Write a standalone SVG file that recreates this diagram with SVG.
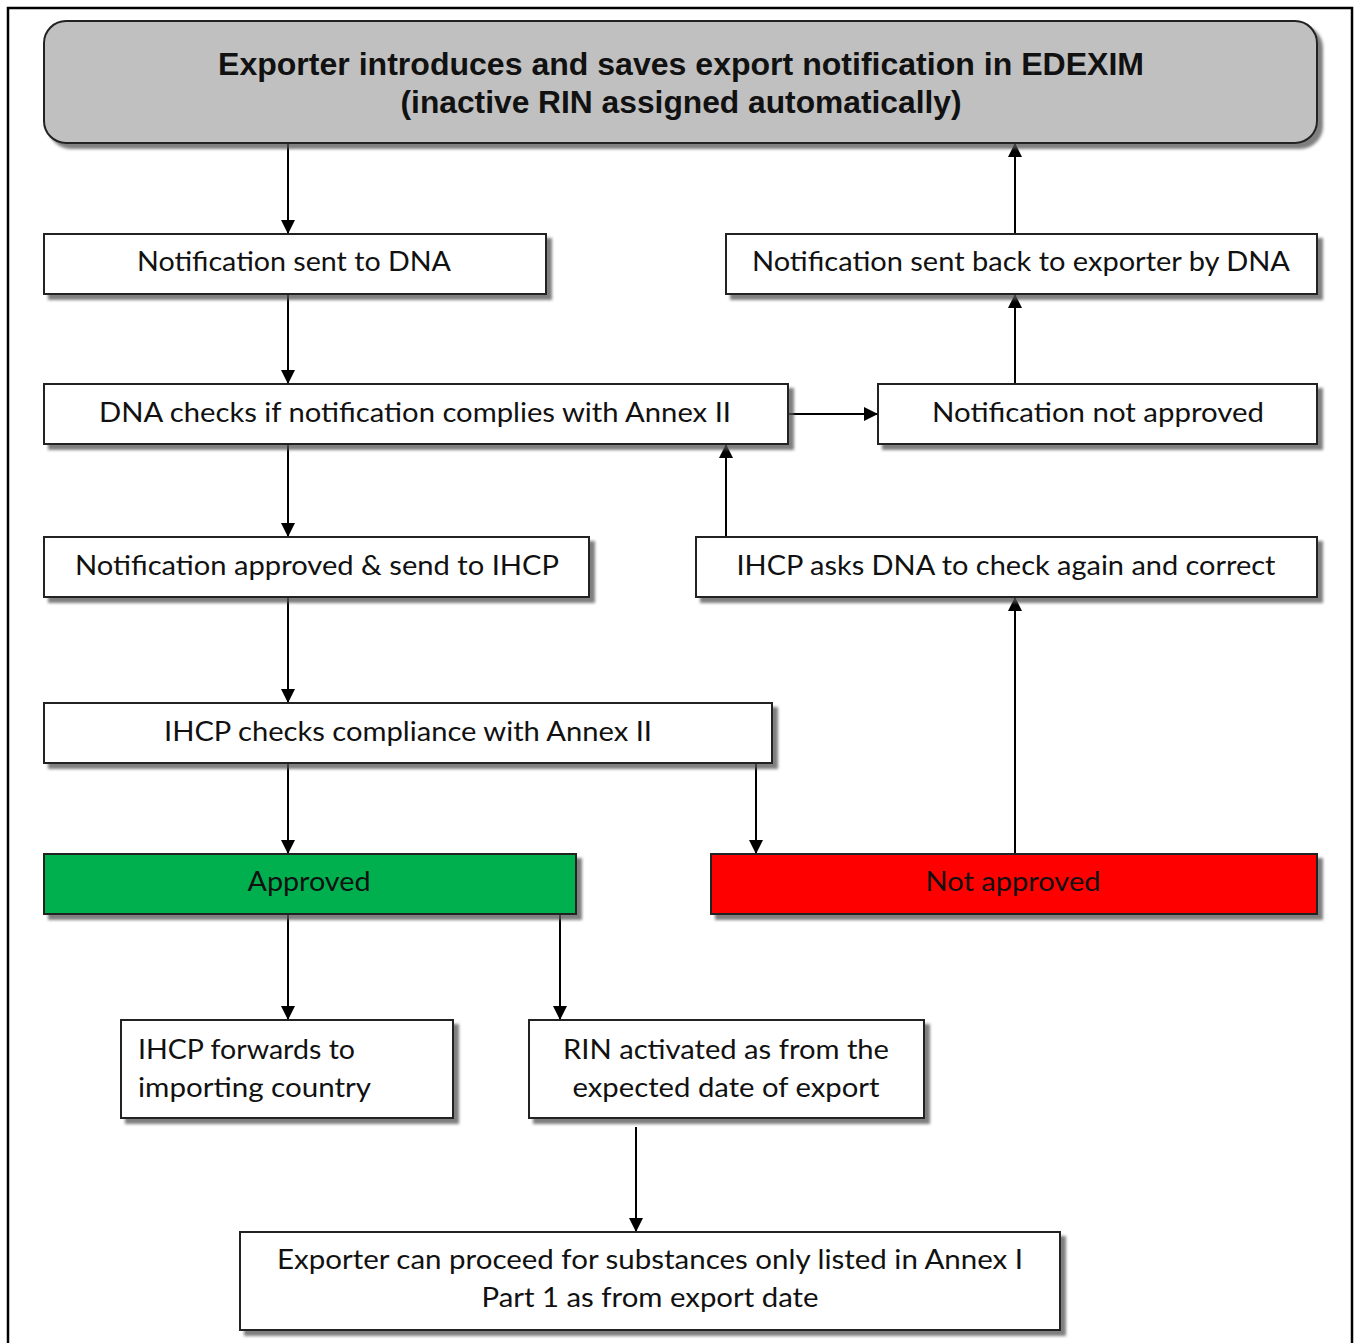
<svg xmlns="http://www.w3.org/2000/svg" width="1356" height="1343" viewBox="0 0 1356 1343">
  <defs>
    <filter id="shadow" x="-5%" y="-20%" width="115%" height="150%">
      <feDropShadow dx="5" dy="5" stdDeviation="1.5" flood-color="#555" flood-opacity="0.75"/>
    </filter>
    <marker id="arrow" markerUnits="userSpaceOnUse" markerWidth="16" markerHeight="16" refX="14" refY="8" orient="auto">
      <path d="M0,1 L14,8 L0,15 z" fill="#000"/>
    </marker>
  </defs>
  <style>
    .box { fill: #fff; stroke: #222; stroke-width: 2; filter: url(#shadow); }
    .lbl { font-family: Lato, "Open Sans", "Noto Sans", sans-serif; font-size: 27px; fill: #111; }
    .mid { text-anchor: middle; }
    .title { font-family: "Liberation Sans", Arial, sans-serif; font-weight: bold; font-size: 31px; fill: #111; text-anchor: middle; }
    .conn line { stroke: #000; stroke-width: 2; marker-end: url(#arrow); }
  </style>

  <rect width="1356" height="1343" fill="#fff"/>
  <!-- page frame -->
  <rect x="8" y="8" width="1344" height="1345" fill="none" stroke="#000" stroke-width="2.5"/>

  <!-- connectors -->
  <g id="connectors" class="conn">
    <line x1="288" y1="143" x2="288" y2="234"/>
    <line x1="288" y1="294" x2="288" y2="384"/>
    <line x1="288" y1="444" x2="288" y2="537"/>
    <line x1="288" y1="597" x2="288" y2="703"/>
    <line x1="288" y1="763" x2="288" y2="854"/>
    <line x1="756" y1="763" x2="756" y2="854"/>
    <line x1="1015" y1="854" x2="1015" y2="597"/>
    <line x1="726" y1="537" x2="726" y2="444"/>
    <line x1="788" y1="414" x2="878" y2="414"/>
    <line x1="1015" y1="384" x2="1015" y2="294"/>
    <line x1="1015" y1="234" x2="1015" y2="143"/>
    <line x1="288" y1="914" x2="288" y2="1020"/>
    <line x1="560" y1="914" x2="560" y2="1020"/>
    <line x1="636" y1="1127" x2="636" y2="1232"/>
  </g>

  <!-- nodes -->
  <g id="n-start">
    <rect class="box" x="44" y="21" width="1273" height="122" rx="22" style="fill:#c0c0c0"/>
    <text class="title" x="681" y="75" textLength="926" lengthAdjust="spacingAndGlyphs">Exporter introduces and saves export notification in EDEXIM</text>
    <text class="title" x="681" y="113" textLength="561" lengthAdjust="spacingAndGlyphs">(inactive RIN assigned automatically)</text>
  </g>

  <g id="n-sent-dna">
    <rect class="box" x="44" y="234" width="502" height="60"/>
    <text class="lbl mid" x="294" y="271" textLength="314" lengthAdjust="spacingAndGlyphs">Notification sent to DNA</text>
  </g>

  <g id="n-sent-back">
    <rect class="box" x="726" y="234" width="591" height="60"/>
    <text class="lbl mid" x="1021" y="271" textLength="538" lengthAdjust="spacingAndGlyphs">Notification sent back to exporter by DNA</text>
  </g>

  <g id="n-dna-checks">
    <rect class="box" x="44" y="384" width="744" height="60"/>
    <text class="lbl mid" x="415" y="422" textLength="632" lengthAdjust="spacingAndGlyphs">DNA checks if notification complies with Annex II</text>
  </g>

  <g id="n-not-approved-dna">
    <rect class="box" x="878" y="384" width="439" height="60"/>
    <text class="lbl mid" x="1098" y="422" textLength="332" lengthAdjust="spacingAndGlyphs">Notification not approved</text>
  </g>

  <g id="n-approved-ihcp">
    <rect class="box" x="44" y="537" width="545" height="60"/>
    <text class="lbl mid" x="317" y="575" textLength="484" lengthAdjust="spacingAndGlyphs">Notification approved &amp; send to IHCP</text>
  </g>

  <g id="n-ihcp-asks">
    <rect class="box" x="696" y="537" width="621" height="60"/>
    <text class="lbl mid" x="1006" y="575" textLength="539" lengthAdjust="spacingAndGlyphs">IHCP asks DNA to check again and correct</text>
  </g>

  <g id="n-ihcp-checks">
    <rect class="box" x="44" y="703" width="728" height="60"/>
    <text class="lbl mid" x="408" y="741" textLength="488" lengthAdjust="spacingAndGlyphs">IHCP checks compliance with Annex II</text>
  </g>

  <g id="n-approved">
    <rect class="box" x="44" y="854" width="532" height="60" style="fill:#00b050"/>
    <text class="lbl mid" x="309" y="891" textLength="123" lengthAdjust="spacingAndGlyphs">Approved</text>
  </g>

  <g id="n-not-approved">
    <rect class="box" x="711" y="854" width="606" height="60" style="fill:#ff0000"/>
    <text class="lbl mid" x="1013" y="891" textLength="175" lengthAdjust="spacingAndGlyphs">Not approved</text>
  </g>

  <g id="n-forwards">
    <rect class="box" x="121" y="1020" width="332" height="98"/>
    <text class="lbl" x="138" y="1059" textLength="217" lengthAdjust="spacingAndGlyphs">IHCP forwards to</text>
    <text class="lbl" x="138" y="1097" textLength="233" lengthAdjust="spacingAndGlyphs">importing country</text>
  </g>

  <g id="n-rin-activated">
    <rect class="box" x="529" y="1020" width="395" height="98"/>
    <text class="lbl mid" x="726" y="1059" textLength="326" lengthAdjust="spacingAndGlyphs">RIN activated as from the</text>
    <text class="lbl mid" x="726" y="1097" textLength="307" lengthAdjust="spacingAndGlyphs">expected date of export</text>
  </g>

  <g id="n-proceed">
    <rect class="box" x="240" y="1232" width="820" height="98"/>
    <text class="lbl mid" x="650" y="1269" textLength="746" lengthAdjust="spacingAndGlyphs">Exporter can proceed for substances only listed in Annex I</text>
    <text class="lbl mid" x="650" y="1307" textLength="337" lengthAdjust="spacingAndGlyphs">Part 1 as from export date</text>
  </g>
</svg>
